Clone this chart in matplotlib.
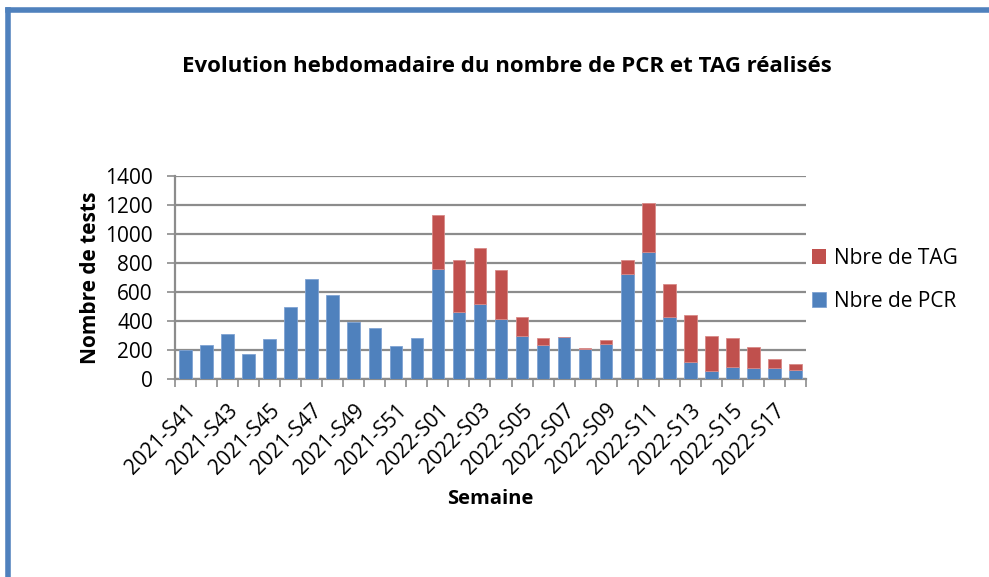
import matplotlib
matplotlib.use("Agg")
import matplotlib.pyplot as plt
from matplotlib.lines import Line2D
import numpy as np

weeks = ["2021-S%02d" % w for w in range(41, 53)] + ["2022-S%02d" % w for w in range(1, 19)]
pcr = [200, 232, 310, 172, 276, 494, 690, 577, 395, 354, 228, 280,
       756, 460, 517, 411, 297, 234, 287, 209, 239, 722, 878, 428,
       120, 57, 80, 76, 74, 62]
total = [200, 232, 310, 172, 276, 494, 690, 577, 395, 354, 228, 280,
         1133, 821, 906, 752, 425, 285, 292, 214, 267, 818, 1211, 655,
         441, 297, 283, 221, 138, 103]
tag = [t - p for t, p in zip(total, pcr)]

blue = '#4F81BD'
red = '#C0504D'
grid_col = '#8C8C8C'

plt.rcParams['font.family'] = ['Open Sans', 'DejaVu Sans']

W, H = 989, 577
fig = plt.figure(figsize=(W / 100, H / 100), dpi=100)
ax = fig.add_axes([175 / W, 1 - 379 / H, (806 - 175) / W, (379 - 176) / H])

x = np.arange(len(weeks))
ax.bar(x, pcr, width=0.6, color=blue, edgecolor='#7FA3D3', linewidth=0.6,
       label='Nbre de PCR', zorder=3)
# no outline on empty TAG segments
tag_edges = ['#D88A88' if t > 0 else 'none' for t in tag]
ax.bar(x, tag, width=0.6, bottom=pcr, color=red, edgecolor=tag_edges, linewidth=0.6,
       label='Nbre de TAG', zorder=3)

ax.set_xlim(-0.5, len(weeks) - 0.5)
ax.set_ylim(0, 1400)
ax.set_yticks(np.arange(0, 1401, 200))
ax.yaxis.grid(True, color=grid_col, linewidth=1.6, zorder=0)
ax.tick_params(axis='y', length=6, width=1.2, color=grid_col, labelsize=15, pad=10)

ax.set_xticks(x[::2])
ax.set_xticklabels(weeks[::2], rotation=45, ha='right', rotation_mode='anchor', fontsize=15)
ax.set_xticks(np.arange(-0.5, len(weeks), 1), minor=True)
ax.tick_params(axis='x', which='major', length=0, pad=15)
ax.tick_params(axis='x', which='minor', length=6, width=1.2, color=grid_col)

for side in ['top', 'right']:
    ax.spines[side].set_visible(False)
for side in ['left', 'bottom']:
    ax.spines[side].set_color(grid_col)
    ax.spines[side].set_linewidth(1.6)

ax.set_ylabel('Nombre de tests', fontsize=15, fontweight='bold', labelpad=3)
ax.set_xlabel('Semaine', fontsize=14.5, fontweight='bold', labelpad=8)

handles, labels = ax.get_legend_handles_labels()
fig.legend(handles[::-1], labels[::-1], loc='center left',
           bbox_to_anchor=(793 / W, 1 - 280 / H), frameon=False, fontsize=15,
           handlelength=0.7, handleheight=0.7, handletextpad=0.35, labelspacing=1.05)

fig.text(507 / W, 1 - 66 / H, 'Evolution hebdomadaire du nombre de PCR et TAG réalisés',
         ha='center', va='center', fontsize=16, fontweight='bold')

# chart area border
fig.add_artist(Line2D([8 / W, 8 / W], [-0.1, 1 - 9.5 / H], color=blue, linewidth=4,
                      transform=fig.transFigure, clip_on=False))
fig.add_artist(Line2D([8 / W, 1.1], [1 - 9.5 / H, 1 - 9.5 / H], color=blue, linewidth=4,
                      transform=fig.transFigure, clip_on=False, solid_capstyle='projecting'))

fig.savefig('out.png', dpi=100)
